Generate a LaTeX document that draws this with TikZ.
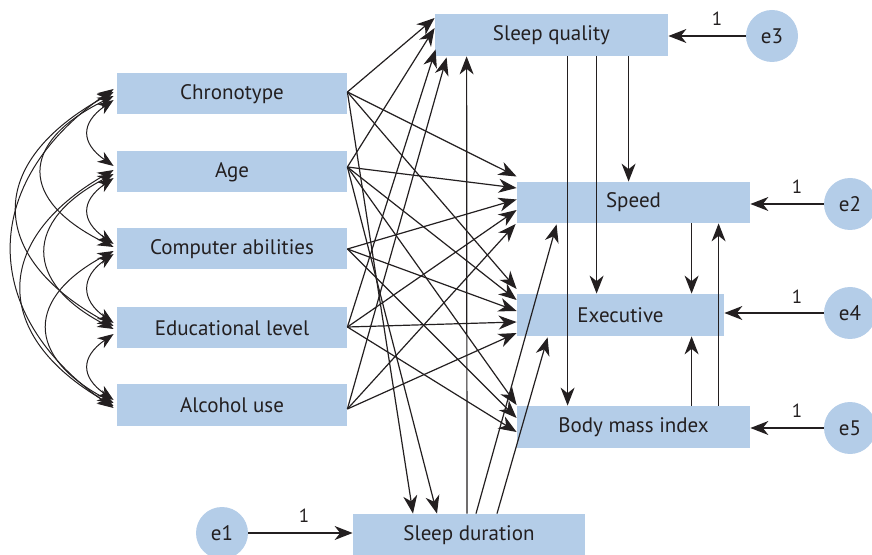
\documentclass[tikz,border=0pt]{standalone}
\usepackage{fontspec}
\setmainfont{PT Sans}
\usetikzlibrary{arrows.meta,calc}
\definecolor{boxblue}{RGB}{180,205,232}
\definecolor{ink}{RGB}{35,31,32}

\begin{document}
\begin{tikzpicture}[x=0.5pt,y=-0.5pt,
  var/.style={fill=boxblue, inner sep=0pt, minimum height=20.5pt, text=ink,
              font=\fontsize{10.5}{12}\selectfont},
  err/.style={circle, fill=boxblue, inner sep=0pt, minimum size=26pt, text=ink,
              font=\fontsize{10.5}{12}\selectfont},
  one/.style={text=ink, inner sep=0pt, font=\fontsize{9.5}{11}\selectfont},
  path/.style={draw=ink, line width=0.6pt, -{Stealth[length=9pt,width=7pt,inset=2.8pt]}},
  cov/.style={draw=ink, line width=0.5pt,
              {Stealth[length=8pt,width=6pt,inset=2.4pt]}-{Stealth[length=8pt,width=6pt,inset=2.4pt]}}
]
\useasboundingbox (0,0) rectangle (872,555);

% exogenous variables
\node[var, minimum width=115pt] (chrono) at (232,94)  {Chronotype};
\node[var, minimum width=115pt] (age)    at (232,172) {Age};
\node[var, minimum width=115pt] (comp)   at (232,249) {Computer abilities};
\node[var, minimum width=115pt] (edu)    at (232,328) {Educational level};
\node[var, minimum width=115pt] (alc)    at (232,405) {Alcohol use};

% endogenous variables
\node[var, minimum width=116.5pt, minimum height=21pt] (sq)   at (551.5,35)  {Sleep quality};
\node[var, minimum width=116.5pt] (speed) at (633.5,202.5) {Speed};
\node[var, minimum width=103.5pt, minimum height=21pt] (exec) at (620.5,315) {Executive};
\node[var, minimum width=116.5pt, minimum height=21pt] (body) at (633.5,427) {Body mass index};
\node[var, minimum width=116pt, minimum height=21pt] (sd)   at (469,535) {Sleep duration};

% error terms
\node[err] (e3) at (772,36)  {e3};
\node[err] (e2) at (850,204) {e2};
\node[err] (e4) at (850,313) {e4};
\node[err] (e5) at (850,428) {e5};
\node[err] (e1) at (222,533) {e1};

\draw[path] (e3) -- (sq.east |- e3);
\draw[path] (e2) -- (speed.east |- e2);
\draw[path] (e4) -- (exec.east |- e4);
\draw[path] (e5) -- (body.east |- e5);
\draw[path] (e1) -- (sd.west |- e1);

\node[one] (w3) at (717,19)  {1};
\node[one] (w2) at (797,187) {1};
\node[one] (w4) at (797,297) {1};
\node[one] (w5) at (797,411) {1};
\node[one] (w1) at (304,516) {1};

% start points on the exogenous boxes
\coordinate (sC) at ($(chrono.east)+(0,-2)$);
\coordinate (sA) at ($(age.east)+(0,-5)$);
\coordinate (sP) at (comp.east);
\coordinate (sE) at ($(edu.east)+(0,-1)$);
\coordinate (sL) at ($(alc.east)+(0,4)$);

% paths to sleep quality
\draw[path] (sC) -- ($(sq.west)+(0,-17)$);
\draw[path] (sA) -- ($(sq.west)+(0,-7)$);
\draw[path] (sE) -- ($(sq.south west)+(1,-7)$);
\draw[path] (sL) -- ($(sq.south west)+(12,1)$);

% paths to speed
\draw[path] (sC) -- ($(speed.west)+(0,-26)$);
\draw[path] (sA) -- ($(speed.west)+(0,-14.5)$);
\draw[path] (sP) -- ($(speed.west)+(0,-3)$);
\draw[path] (sE) -- ($(speed.west)+(0,7.5)$);
\draw[path] (sL) -- ($(speed.west)+(-1,21.5)$);

% paths to executive
\draw[path] (sC) -- ($(exec.west)+(0,-26)$);
\draw[path] (sA) -- ($(exec.west)+(0,-15)$);
\draw[path] (sP) -- ($(exec.west)+(0,-4)$);
\draw[path] (sE) -- ($(exec.west)+(0,7)$);
\draw[path] (sL) -- ($(exec.west)+(0,18)$);

% paths to body mass index
\draw[path] (sA) -- ($(body.west)+(0,-22)$);
\draw[path] (sP) -- ($(body.west)+(0,-9)$);
\draw[path] (sE) -- ($(body.west)+(0,5)$);

% paths to sleep duration
\draw[path] (sC) -- ($(sd.north)+(-56,0)$);
\draw[path] (sA) -- ($(sd.north)+(-32,0)$);

% paths from sleep duration
\draw[path] ($(sd.north)+(-2,0)$) -- ($(sq.south west)+(32,0)$);
\draw[path] ($(sd.north)+(7,0)$)  -- ($(speed.south west)+(40,1)$);
\draw[path] ($(sd.north)+(28,0)$) -- ($(exec.south west)+(31,1)$);

% paths among the endogenous variables
\draw[path] ($(sq.south west)+(133,0)$) -- ($(body.north west)+(51,0)$);
\draw[path] ($(sq.south west)+(162,0)$) -- ($(exec.north west)+(80,0)$);
\draw[path] ($(sq.south west)+(194,0)$) -- ($(speed.north west)+(112,0)$);
\draw[path] ($(speed.south west)+(175,0)$) -- ($(exec.north west)+(175,0)$);
\draw[path] ($(body.north west)+(202,0)$) -- ($(speed.south west)+(202,0)$);
\draw[path] ($(body.north west)+(175,0)$) -- ($(exec.south west)+(175,0)$);

% covariances among the exogenous variables
\coordinate (cC1) at ($(chrono.west)+(-3,6)$);
\coordinate (cC2) at ($(chrono.west)+(-3,2)$);
\coordinate (cC3) at ($(chrono.west)+(-3,-2)$);
\coordinate (cC4) at ($(chrono.west)+(-3,-5)$);
\coordinate (cA0) at ($(age.west)+(-3,-6)$);
\coordinate (cA2) at ($(age.west)+(-3,6)$);
\coordinate (cA3) at ($(age.west)+(-3,2)$);
\coordinate (cA4) at ($(age.west)+(-3,-2)$);
\coordinate (cP0) at ($(comp.west)+(-3,-5)$);
\coordinate (cP1) at ($(comp.west)+(-3,-2)$);
\coordinate (cP3) at ($(comp.west)+(-3,5)$);
\coordinate (cP4) at ($(comp.west)+(-3,2)$);
\coordinate (cE0) at ($(edu.west)+(-3,-2)$);
\coordinate (cE1) at ($(edu.west)+(-3,1)$);
\coordinate (cE2) at ($(edu.west)+(-3,-5)$);
\coordinate (cE4) at ($(edu.west)+(-3,6)$);
\coordinate (cL0) at ($(alc.west)+(-3,3)$);
\coordinate (cL1) at ($(alc.west)+(-3,1)$);
\coordinate (cL2) at ($(alc.west)+(-3,-2)$);
\coordinate (cL3) at ($(alc.west)+(-3,-5)$);

\draw[cov] (cC1) .. controls +(-33,23) and +(-33,-23) .. (cA0);
\draw[cov] (cA2) .. controls +(-33,23) and +(-33,-23) .. (cP0);
\draw[cov] (cP3) .. controls +(-33,23) and +(-33,-23) .. (cE2);
\draw[cov] (cE4) .. controls +(-33,23) and +(-33,-23) .. (cL3);

\draw[cov] (cC2) .. controls +(-95,47) and +(-95,-47) .. (cP1);
\draw[cov] (cA3) .. controls +(-90,47) and +(-90,-47) .. (cE1);
\draw[cov] (cP4) .. controls +(-88,47) and +(-88,-47) .. (cL2);

\draw[cov] (cC3) .. controls +(-128,70) and +(-128,-70) .. (cE0);
\draw[cov] (cA4) .. controls +(-122,70) and +(-122,-70) .. (cL1);

\draw[cov] (cC4) .. controls +(-135,94) and +(-135,-94) .. (cL0);
\end{tikzpicture}
\end{document}
